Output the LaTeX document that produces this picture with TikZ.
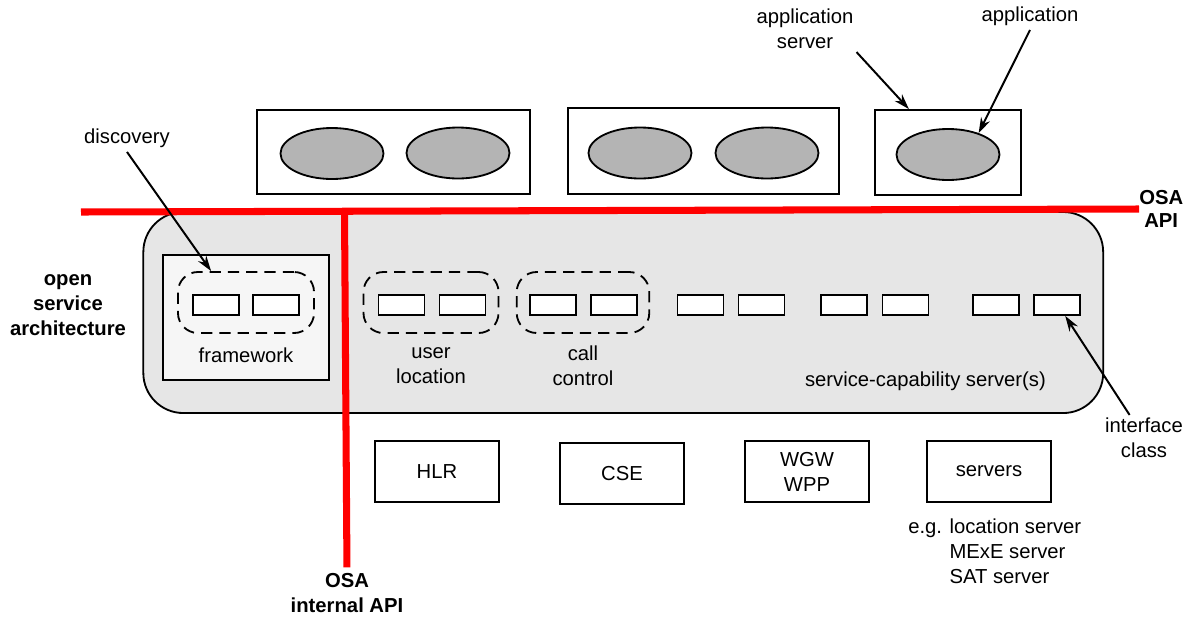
\documentclass[tikz,border=0pt]{standalone}
\usepackage{fontspec}
\setmainfont{Liberation Sans}
\usetikzlibrary{shapes.geometric,arrows.meta}
\definecolor{osared}{RGB}{255,0,0}
\definecolor{archgray}{RGB}{230,230,230}
\definecolor{fwgray}{RGB}{246,246,246}
\definecolor{appgray}{RGB}{180,180,180}
\tikzset{
  every node/.style={font=\fontsize{14.4}{17.8}\selectfont, inner sep=0pt},
  srvbox/.style={draw, line width=1.3pt},
  appli/.style={draw, ellipse, fill=appgray, line width=1.3pt, minimum width=2.575cm, minimum height=1.275cm},
  ifbox/.style={draw, fill=white, line width=1.3pt, minimum width=1.15cm, minimum height=0.5cm},
  grpbox/.style={draw, dash pattern=on 8pt off 5pt, rounded corners=0.5cm, line width=1.3pt, minimum height=1.525cm},
  netbox/.style={draw, line width=1.3pt, minimum width=3.1cm, minimum height=1.525cm},
  osaline/.style={draw=osared, line width=5pt},
  pointer/.style={-{Stealth[length=11pt,width=7pt]}, line width=1.4pt},
}
\begin{document}
\begin{tikzpicture}[x=0.025cm, y=-0.025cm]
		\useasboundingbox (0,0) rectangle (1193,620);
		%Serveurs d'application
		\node[srvbox, minimum width=6.825cm, minimum height=2.1cm] (srv1) at (393.5,152) {};
		\node[srvbox, minimum width=6.775cm, minimum height=2.15cm] (srv2) at (703.5,151) {};
		\node[srvbox, minimum width=3.65cm, minimum height=2.125cm] (srv3) at (948,152.5) {};
		\node[appli] (app1) at (332,153.5) {};
		\node[appli] (app2) at (458,153) {};
		\node[appli] (app3) at (640,153) {};
		\node[appli] (app4) at (767,153) {};
		\node[appli] (app5) at (948,154.5) {};
		%Architecture OSA
		\node[draw, fill=archgray, rounded corners=1cm, line width=1.3pt, minimum width=23.99cm, minimum height=5.025cm] (osa) at (623.25,312.5) {};
		\node[draw, fill=fwgray, line width=1.3pt, minimum width=4.15cm, minimum height=3.125cm] (fw) at (246,317.5) {};
		\node[grpbox, minimum width=3.4cm] (fwdash) at (246,302.5) {};
		\node[grpbox, minimum width=3.375cm] (uldash) at (431,302.5) {};
		\node[grpbox, minimum width=3.3125cm] (ccdash) at (583,302.5) {};
		\foreach \x [count=\i] in {216,276,401.5,462.5,553,614,700.5,761.5,844,905.5,996,1057}
			\node[ifbox] (if\i) at (\x,305) {};
		\node (fwlbl) at (246,355) {framework};
		\node[align=center] (ullbl) at (431,366) {user\\location};
		\node[align=center] (cclbl) at (583,366) {call\\control};
		\node (scslbl) at (925.5,381) {service-capability server(s)};
		\node[align=center, font=\fontsize{14.4}{17.8}\selectfont\bfseries] (osalbl) at (68,305) {open\\service\\architecture};
		%Lignes API
		\node[align=center, font=\fontsize{14.4}{15.8}\selectfont\bfseries, anchor=west] (osaapi) at (1139,209) {OSA\\API};
		\node[align=center, font=\fontsize{14.4}{17.8}\selectfont\bfseries, anchor=north] (osaint) at (347,573) {OSA\\internal API};
		\coordinate (apiL) at (81,212);
		\coordinate (apiJ) at (344.5,212);
		\draw[osaline] (apiL) -- (osaapi.west);
		\draw[osaline, shorten >=4pt] (apiJ) -- (osaint.north);
		%Serveurs du reseau
		\node[netbox] (hlr) at (437,471.5) {HLR};
		\node[netbox] (cse) at (622,473.5) {CSE};
		\node[netbox, align=center] (wgw) at (807,471.5) {WGW\\WPP};
		\node[netbox] (servers) at (989,471.5) {servers};
		\node[align=left, anchor=west] (eg) at (908,551) {e.g. location server\\\hphantom{e.g. }MExE server\\\hphantom{e.g. }SAT server};
		%Etiquettes et fleches
		\node[inner sep=3pt] (disc) at (127,138) {discovery};
		\node[align=center, inner sep=2pt] (asl) at (805,29) {application\\server};
		\node[inner sep=3pt] (al) at (1030,16) {application};
		\node[align=center, inner sep=2pt] (il) at (1144,438) {interface\\class};
		\draw[pointer] (disc.south) -- (fwdash.138);
		\draw[pointer] (asl.south east) -- (srv3.132);
		\draw[pointer] (al.south) -- (app5.35);
		\draw[pointer] (il.122) -- (if12.-53);
	\end{tikzpicture}
\end{document}
